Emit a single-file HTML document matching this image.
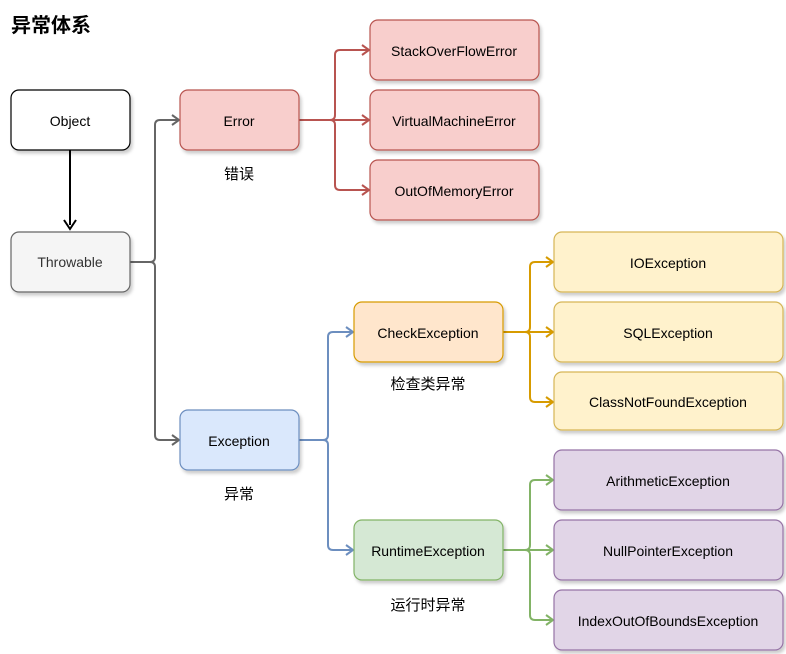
<!DOCTYPE html>
<html><head><meta charset="utf-8"><style>
html,body{margin:0;padding:0;background:#fff;width:786px;height:654px;overflow:hidden}
text{font-family:"Liberation Sans","Noto Sans CJK SC",sans-serif}
</style></head><body>
<svg width="786" height="654" viewBox="0 0 786 654" xmlns="http://www.w3.org/2000/svg">
<defs>
<filter id="sh" x="-10%" y="-10%" width="130%" height="140%"><feDropShadow dx="2" dy="3" stdDeviation="1.5" flood-color="#000" flood-opacity="0.2"/></filter>
</defs>
<text x="11" y="32" font-size="20" font-weight="bold" fill="#000">异常体系</text>
<g fill="none" stroke-width="2">
<path d="M70 150 V225" stroke="#000"/><path d="M64 220 L70 229 L76 220" stroke="#000"/>
<path d="M130 262 H150 Q155 262 155 257 V125 Q155 120 160 120 H178 M130 262 H150 Q155 262 155 267 V435 Q155 440 160 440 H178" stroke="#666"/>
<path d="M172 115 L179 120 L172 125 M172 435 L179 440 L172 445" stroke="#666"/>
<path d="M299 120 H330 Q335 120 335 115 V55 Q335 50 340 50 H368 M299 120 H368 M330 120 Q335 120 335 125 V185 Q335 190 340 190 H368" stroke="#b85450"/>
<path d="M362 45 L369 50 L362 55 M362 115 L369 120 L362 125 M362 185 L369 190 L362 195" stroke="#b85450"/>
<path d="M299 440 H323 Q328 440 328 435 V337 Q328 332 333 332 H352 M323 440 Q328 440 328 445 V545 Q328 550 333 550 H352" stroke="#6c8ebf"/>
<path d="M346 327 L353 332 L346 337 M346 545 L353 550 L346 555" stroke="#6c8ebf"/>
<path d="M503 332 H525 Q530 332 530 327 V267 Q530 262 535 262 H552 M503 332 H552 M525 332 Q530 332 530 337 V397 Q530 402 535 402 H552" stroke="#d79b00"/>
<path d="M546 257 L553 262 L546 267 M546 327 L553 332 L546 337 M546 397 L553 402 L546 407" stroke="#d79b00"/>
<path d="M503 550 H525 Q530 550 530 545 V485 Q530 480 535 480 H552 M503 550 H552 M525 550 Q530 550 530 555 V615 Q530 620 535 620 H552" stroke="#82b366"/>
<path d="M546 475 L553 480 L546 485 M546 545 L553 550 L546 555 M546 615 L553 620 L546 625" stroke="#82b366"/>
</g>
<g filter="url(#sh)" stroke-width="1.2">
<rect x="11" y="90" width="119" height="60" rx="8" fill="#fff" stroke="#000"/>
<rect x="11" y="232" width="119" height="60" rx="8" fill="#f5f5f5" stroke="#666"/>
<rect x="180" y="90" width="119" height="60" rx="8" fill="#f8cecc" stroke="#b85450"/>
<rect x="180" y="410" width="119" height="60" rx="8" fill="#dae8fc" stroke="#6c8ebf"/>
<rect x="370" y="20" width="169" height="60" rx="8" fill="#f8cecc" stroke="#b85450"/>
<rect x="370" y="90" width="169" height="60" rx="8" fill="#f8cecc" stroke="#b85450"/>
<rect x="370" y="160" width="169" height="60" rx="8" fill="#f8cecc" stroke="#b85450"/>
<rect x="354" y="302" width="149" height="60" rx="8" fill="#ffe6cc" stroke="#d79b00"/>
<rect x="354" y="520" width="149" height="60" rx="8" fill="#d5e8d4" stroke="#82b366"/>
<rect x="554" y="232" width="229" height="60" rx="8" fill="#fff2cc" stroke="#d6b656"/>
<rect x="554" y="302" width="229" height="60" rx="8" fill="#fff2cc" stroke="#d6b656"/>
<rect x="554" y="372" width="229" height="58" rx="8" fill="#fff2cc" stroke="#d6b656"/>
<rect x="554" y="450" width="229" height="60" rx="8" fill="#e1d5e7" stroke="#9673a6"/>
<rect x="554" y="520" width="229" height="60" rx="8" fill="#e1d5e7" stroke="#9673a6"/>
<rect x="554" y="590" width="229" height="60" rx="8" fill="#e1d5e7" stroke="#9673a6"/>
</g>
<g font-size="14" fill="#000" text-anchor="middle">
<text x="70" y="126">Object</text>
<text x="70" y="267" fill="#333">Throwable</text>
<text x="239" y="126">Error</text>
<text x="239" y="446">Exception</text>
<text x="454" y="56">StackOverFlowError</text>
<text x="454" y="126">VirtualMachineError</text>
<text x="454" y="196">OutOfMemoryError</text>
<text x="428" y="338">CheckException</text>
<text x="428" y="556">RuntimeException</text>
<text x="668" y="268">IOException</text>
<text x="668" y="338">SQLException</text>
<text x="668" y="407">ClassNotFoundException</text>
<text x="668" y="486">ArithmeticException</text>
<text x="668" y="556">NullPointerException</text>
<text x="668" y="626">IndexOutOfBoundsException</text>
<text x="239" y="179" font-size="15">错误</text>
<text x="239" y="499" font-size="15">异常</text>
<text x="428" y="389" font-size="15">检查类异常</text>
<text x="428" y="610" font-size="15">运行时异常</text>
</g>
</svg>
</body></html>
